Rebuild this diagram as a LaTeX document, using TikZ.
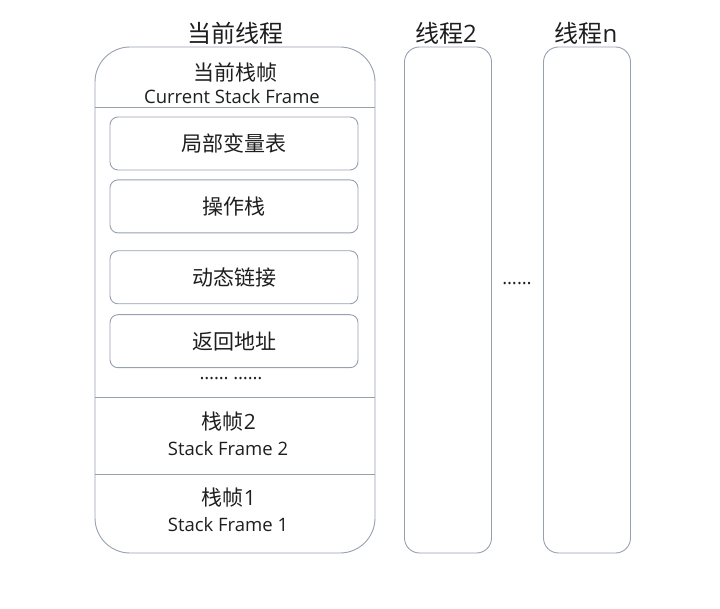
\documentclass[tikz,border=0pt]{standalone}
\usepackage{fontspec}
\setmainfont{Open Sans}
\newfontfamily\cjk{Noto Sans CJK SC}
\usepackage{tikz}
\usetikzlibrary{positioning}

\definecolor{edge}{RGB}{150,160,175}
\definecolor{ink}{RGB}{30,30,30}

\begin{document}
\begin{tikzpicture}[
  x=1pt, y=1pt,
  text=ink,
  thread/.style={draw=edge, line width=0.9pt, minimum width=87pt,
                 minimum height=506pt, rounded corners=15pt},
  part/.style={draw=edge, line width=0.9pt, minimum width=248pt,
               minimum height=53pt, rounded corners=8pt,
               font=\fontsize{21}{25}\selectfont\cjk},
  title/.style={font=\fontsize{24}{28}\selectfont},
  zh/.style={font=\fontsize{21}{25}\selectfont},
  en/.style={font=\fontsize{18.5}{22}\selectfont},
  sep/.style={draw=edge, line width=0.9pt},
]
\useasboundingbox (0,0) rectangle (720,-609);
% ---- current thread ---------------------------------------------------
\node[thread, minimum width=280pt, rounded corners=35pt] (cur) at (235,-300) {};
\node[title] (curT) at (235,-33) {\cjk 当前线程};
\node[zh] (frameZh) at (235,-72) {\cjk 当前栈帧};
\node[en] (frameEn) at (232,-97) {Current Stack Frame};
\coordinate (s1) at (0,-107);
\coordinate (s2) at (0,-397);
\coordinate (s3) at (0,-474);
\draw[sep] (cur.west |- s1) -- (cur.east |- s1);
% ---- parts of the current frame ---------------------------------------
\node[part] (locals) at (234,-143.5) {局部变量表};
\node[part, below=9pt of locals] (opstack) {操作栈};
\node[part, below=17pt of opstack] (dynlink) {动态链接};
\node[part, below=10pt of dynlink] (retaddr) {返回地址};
\node[en] (more) at (231,-379) {…… ……};
\draw[sep] (cur.west |- s2) -- (cur.east |- s2);
% ---- older frames -----------------------------------------------------
\node[zh] (f2Zh) at (229,-422) {{\cjk 栈帧}2};
\node[en] (f2En) at (228,-449) {Stack Frame 2};
\draw[sep] (cur.west |- s3) -- (cur.east |- s3);
\node[zh] (f1Zh) at (229,-498) {{\cjk 栈帧}1};
\node[en] (f1En) at (228,-525) {Stack Frame 1};
% ---- other threads ----------------------------------------------------
\node[thread] (th2) at (448,-300) {};
\node[title] (th2T) at (446,-33) {{\cjk 线程}2};
\node[thread] (thn) at (587,-300) {};
\node[title] (thnT) at (586,-33) {{\cjk 线程}n};
\node[en] (dots) at (517,-284) {……};
\end{tikzpicture}
\end{document}
